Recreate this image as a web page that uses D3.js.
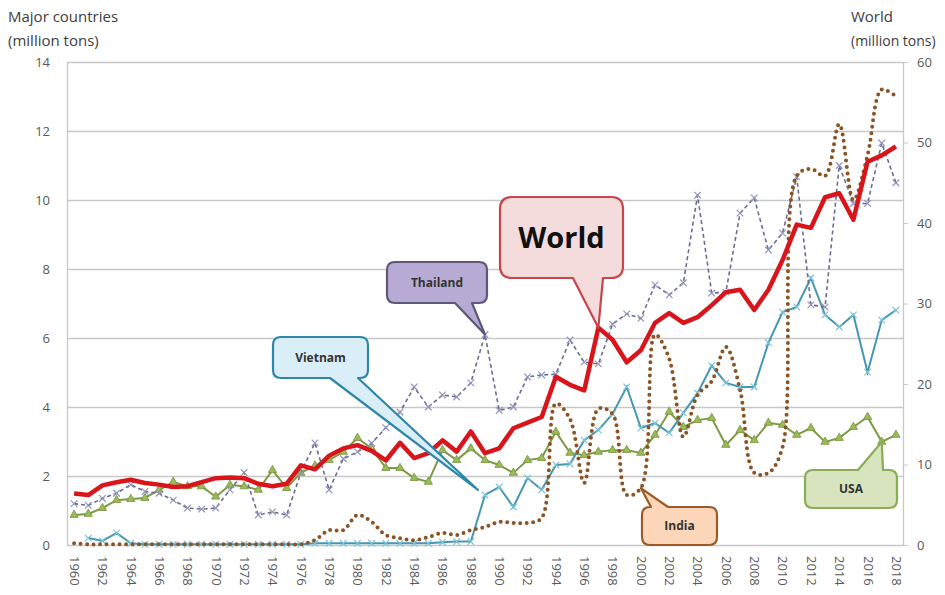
<!DOCTYPE html>
<html>
<head>
<meta charset="utf-8">
<script src="https://cdn.jsdelivr.net/npm/d3@7"></script>
<style>
  html, body { margin: 0; padding: 0; background: #fff; }
  svg { display: block; font-family: "Open Sans", Lato, "Liberation Sans", sans-serif; }
</style>
</head>
<body>
<svg id="chart" width="945" height="595"></svg>
<script>
// ---- Rice exports, 1960-2018 (million tons) ----
const years = [1960,1961,1962,1963,1964,1965,1966,1967,1968,1969,
               1970,1971,1972,1973,1974,1975,1976,1977,1978,1979,
               1980,1981,1982,1983,1984,1985,1986,1987,1988,1989,
               1990,1991,1992,1993,1994,1995,1996,1997,1998,1999,
               2000,2001,2002,2003,2004,2005,2006,2007,2008,2009,
               2010,2011,2012,2013,2014,2015,2016,2017,2018];

// World total (right axis)
const world = [6.4,6.2,7.4,7.8,8.1,7.7,7.5,7.2,7.3,7.8,
               8.3,8.4,8.3,7.6,7.3,7.6,9.9,9.4,11.1,12.0,
               12.4,11.7,10.5,12.7,10.8,11.4,13.0,11.6,14.1,11.4,
               12.0,14.5,15.2,15.9,20.9,19.9,19.2,27.0,25.5,22.7,
               24.2,27.6,28.8,27.6,28.3,29.8,31.4,31.7,29.2,31.7,
               35.4,39.8,39.4,43.2,43.7,40.4,47.6,48.4,49.5];

// Major countries (left axis)
const thailand = [1.2,1.15,1.35,1.5,1.75,1.55,1.5,1.3,1.07,1.04,
                  1.07,1.6,2.1,0.87,0.96,0.87,2.09,2.96,1.6,2.5,
                  2.7,2.95,3.4,3.85,4.58,4.0,4.35,4.29,4.7,6.1,
                  3.9,4.0,4.87,4.93,4.95,5.94,5.3,5.25,6.4,6.7,
                  6.57,7.54,7.25,7.6,10.14,7.3,7.33,9.62,10.06,8.55,
                  9.04,10.67,6.96,6.9,11.0,9.9,9.9,11.65,10.5];

const vietnam = [null,0.2,0.12,0.35,0.05,0.02,0.02,0.02,0.02,0.02,
                 0.02,0.02,0.02,0.02,0.02,0.02,0.02,0.05,0.05,0.05,
                 0.05,0.05,0.05,0.05,0.05,0.05,0.08,0.1,0.1,1.45,
                 1.68,1.1,1.94,1.6,2.32,2.35,3.04,3.33,3.8,4.58,
                 3.39,3.53,3.25,3.83,4.4,5.2,4.7,4.58,4.58,5.86,
                 6.75,6.9,7.74,6.67,6.32,6.67,5.01,6.52,6.81];

const usa = [0.87,0.9,1.07,1.3,1.33,1.36,1.6,1.83,1.7,1.7,
             1.4,1.74,1.7,1.6,2.17,1.65,2.09,2.3,2.46,2.7,
             3.1,2.8,2.23,2.23,1.94,1.83,2.75,2.46,2.8,2.46,
             2.32,2.09,2.46,2.52,3.28,2.67,2.6,2.7,2.75,2.75,
             2.67,3.19,3.86,3.42,3.62,3.68,2.9,3.33,3.04,3.54,
             3.48,3.19,3.39,2.99,3.1,3.42,3.71,2.99,3.19];

const india = [0.05,0.02,0.02,0.02,0.02,0.02,0.02,0.02,0.02,0.02,
               0.02,0.02,0.02,0.02,0.02,0.02,0.02,0.14,0.43,0.43,
               0.87,0.67,0.29,0.2,0.14,0.23,0.35,0.29,0.43,0.52,
               0.67,0.64,0.64,0.78,4.1,3.65,1.8,3.95,3.8,1.45,
               1.65,6.1,5.4,3.13,4.35,4.75,5.74,4.5,2.09,2.09,
               2.84,10.7,10.9,10.7,12.2,10.0,11.3,13.2,13.0];

const leftTicks  = [0,2,4,6,8,10,12,14];
const rightTicks = [0,10,20,30,40,50,60];
const yearLabels = [1960,1962,1964,1966,1968,1970,1972,1974,1976,1978,
                    1980,1982,1984,1986,1988,1990,1992,1994,1996,1998,
                    2000,2002,2004,2006,2008,2010,2012,2014,2016,2018];

// ---- layout ----
const plot = { left: 67, right: 903, top: 62, bottom: 545 };
const svg = d3.select('#chart');

const x  = d3.scalePoint().domain(years).range([plot.left, plot.right]).padding(0.5);
const yL = d3.scaleLinear().domain([0, 14]).range([plot.bottom, plot.top]);
const yR = d3.scaleLinear().domain([0, 60]).range([plot.bottom, plot.top]);

const pts = arr => years.map((yr, i) => ({ year: yr, v: arr[i] }));

// horizontal gridlines
svg.append('g')
  .attr('transform', `translate(${plot.left},0)`)
  .call(d3.axisLeft(yL).tickValues(leftTicks).tickSize(-(plot.right - plot.left)).tickFormat(''))
  .call(g => {
    g.select('.domain').remove();
    g.selectAll('line').attr('stroke', '#c8c8c8').attr('stroke-width', 1.3);
  });

// left axis
svg.append('g')
  .attr('transform', `translate(${plot.left},0)`)
  .call(d3.axisLeft(yL).tickValues(leftTicks).tickSize(0).tickSizeOuter(0).tickPadding(17))
  .call(g => {
    g.select('.domain').attr('stroke', '#c8c8c8').attr('stroke-width', 1.3);
    g.selectAll('text').attr('fill', '#595959').style('font-size', '13px').style('font-family', '"Open Sans", sans-serif');
  });

// right axis (World)
svg.append('g')
  .attr('transform', `translate(${plot.right},0)`)
  .call(d3.axisRight(yR).tickValues(rightTicks).tickSize(5).tickSizeOuter(0).tickPadding(9))
  .call(g => {
    g.select('.domain').attr('stroke', '#c8c8c8').attr('stroke-width', 1.3);
    g.selectAll('line').attr('stroke', '#c8c8c8');
    g.selectAll('text').attr('fill', '#595959').style('font-size', '13px').style('font-family', '"Open Sans", sans-serif');
  });

// bottom axis: years, rotated
svg.append('g')
  .attr('transform', `translate(0,${plot.bottom})`)
  .call(d3.axisBottom(x).tickValues(yearLabels).tickSize(0).tickSizeOuter(0))
  .call(g => {
    g.select('.domain').remove();
    g.selectAll('text')
      .attr('transform', 'rotate(90)')
      .attr('x', 11).attr('y', 0).attr('dy', '0.35em')
      .attr('text-anchor', 'start')
      .attr('fill', '#595959')
      .style('font-size', '13px').style('font-family', '"Open Sans", sans-serif');
  });

// axis titles
const titles = svg.append('g').attr('fill', '#404040').style('font-size', '15px');
titles.append('text').attr('x', 8).attr('y', 22).text('Major countries');
titles.append('text').attr('x', 8).attr('y', 46).text('(million tons)');
titles.append('text').attr('x', 851).attr('y', 22).text('World');
titles.append('text').attr('x', 851).attr('y', 46).style('font-size', '14px').text('(million tons)');

// ---- series ----
const lineL = d3.line().defined(d => d.v != null).x(d => x(d.year)).y(d => yL(d.v));
const lineR = d3.line().defined(d => d.v != null).x(d => x(d.year)).y(d => yR(d.v));
const smoothL = d3.line().x(d => x(d.year)).y(d => yL(d.v)).curve(d3.curveCatmullRom.alpha(0.5));

const series = svg.append('g');

// USA: green with triangles
series.append('path').datum(pts(usa))
  .attr('d', lineL).attr('fill', 'none')
  .attr('stroke', '#7d9a45').attr('stroke-width', 2);
series.append('g').selectAll('path').data(pts(usa)).join('path')
  .attr('d', d3.symbol(d3.symbolTriangle, 30))
  .attr('transform', d => `translate(${x(d.year)},${yL(d.v)})`)
  .attr('fill', '#9bbb59').attr('stroke', '#77933c').attr('stroke-width', 0.8);

// Vietnam: teal with x markers
series.append('path').datum(pts(vietnam))
  .attr('d', lineL).attr('fill', 'none')
  .attr('stroke', '#4797b0').attr('stroke-width', 2);
series.append('g').selectAll('path').data(pts(vietnam).filter(d => d.v != null)).join('path')
  .attr('d', d3.symbol(d3.symbolX, 30))
  .attr('transform', d => `translate(${x(d.year)},${yL(d.v)})`)
  .attr('fill', 'none').attr('stroke', '#7cc4d8').attr('stroke-width', 1.2);

// Thailand: dashed slate with x markers
series.append('path').datum(pts(thailand))
  .attr('d', lineL).attr('fill', 'none')
  .attr('stroke', '#6b6d8c').attr('stroke-width', 1.6)
  .attr('stroke-dasharray', '4,3');
series.append('g').selectAll('path').data(pts(thailand)).join('path')
  .attr('d', d3.symbol(d3.symbolX, 30))
  .attr('transform', d => `translate(${x(d.year)},${yL(d.v)})`)
  .attr('fill', 'none').attr('stroke', '#9294bd').attr('stroke-width', 1.2);

// India: brown round dots, smoothed
series.append('path').datum(pts(india))
  .attr('d', smoothL).attr('fill', 'none')
  .attr('stroke', '#8a5424').attr('stroke-width', 4)
  .attr('stroke-linecap', 'round')
  .attr('stroke-dasharray', '0,6.5');

// World: thick red
series.append('path').datum(pts(world))
  .attr('d', lineR).attr('fill', 'none')
  .attr('stroke', '#d9141b').attr('stroke-width', 4.5)
  .attr('stroke-linejoin', 'round');

// ---- callouts ----
// rounded box with a wedge pointer on its top or bottom edge
function bubblePath(b) {
  const { x0, y0, w, h, r, side, b1, b2, tip } = b;
  const x1 = x0 + w, y1 = y0 + h;
  let p = `M${x0 + r},${y0}`;
  if (side === 'top') p += `L${b1},${y0}L${tip[0]},${tip[1]}L${b2},${y0}`;
  p += `L${x1 - r},${y0}Q${x1},${y0} ${x1},${y0 + r}`;
  p += `L${x1},${y1 - r}Q${x1},${y1} ${x1 - r},${y1}`;
  if (side === 'bottom') p += `L${b2},${y1}L${tip[0]},${tip[1]}L${b1},${y1}`;
  p += `L${x0 + r},${y1}Q${x0},${y1} ${x0},${y1 - r}`;
  p += `L${x0},${y0 + r}Q${x0},${y0} ${x0 + r},${y0}Z`;
  return p;
}

const idx = yr => years.indexOf(yr);
const callouts = [
  { label: 'Thailand', x0: 387, y0: 262, w: 100, h: 41, r: 8, side: 'bottom', b1: 455, b2: 472,
    tip: [x(1989), yL(thailand[idx(1989)])], fill: '#b7abd6', stroke: '#5d5878', size: 12, weight: 700 },
  { label: 'World', x0: 500, y0: 197, w: 123, h: 81, r: 12, side: 'bottom', b1: 573, b2: 603,
    tip: [x(1997), yR(world[idx(1997)])], fill: '#f4dcdc', stroke: '#c9454b', size: 29, weight: 700 },
  { label: 'Vietnam', x0: 273, y0: 337, w: 95, h: 41, r: 8, side: 'bottom', b1: 330, b2: 358,
    tip: [x(1989) - 7, yL(vietnam[idx(1989)]) - 5], fill: '#d9eef7', stroke: '#2f86ab', size: 12, weight: 700 },
  { label: 'India', x0: 642, y0: 507, w: 75, h: 38, r: 8, side: 'top', b1: 651, b2: 668,
    tip: [x(2000), yL(india[idx(2000)])], fill: '#fbd6b8', stroke: '#9a5a2a', size: 12, weight: 700 },
  { label: 'USA', x0: 805, y0: 470, w: 92, h: 38, r: 8, side: 'top', b1: 858, b2: 883,
    tip: [x(2017), yL(usa[idx(2017)])], fill: '#d7e4bd', stroke: '#8aac55', size: 12, weight: 700 }
];

const cg = svg.append('g');
callouts.forEach(c => {
  cg.append('path').attr('d', bubblePath(c))
    .attr('fill', c.fill).attr('stroke', c.stroke).attr('stroke-width', 2.2)
    .attr('stroke-linejoin', 'round');
  cg.append('text')
    .attr('x', c.x0 + c.w / 2).attr('y', c.y0 + c.h / 2)
    .attr('dy', '0.35em').attr('text-anchor', 'middle')
    .attr('fill', c.label === 'World' ? '#111' : '#333')
    .style('font-size', c.size + 'px').style('font-weight', c.weight)
    .text(c.label);
});
</script>
</body>
</html>
